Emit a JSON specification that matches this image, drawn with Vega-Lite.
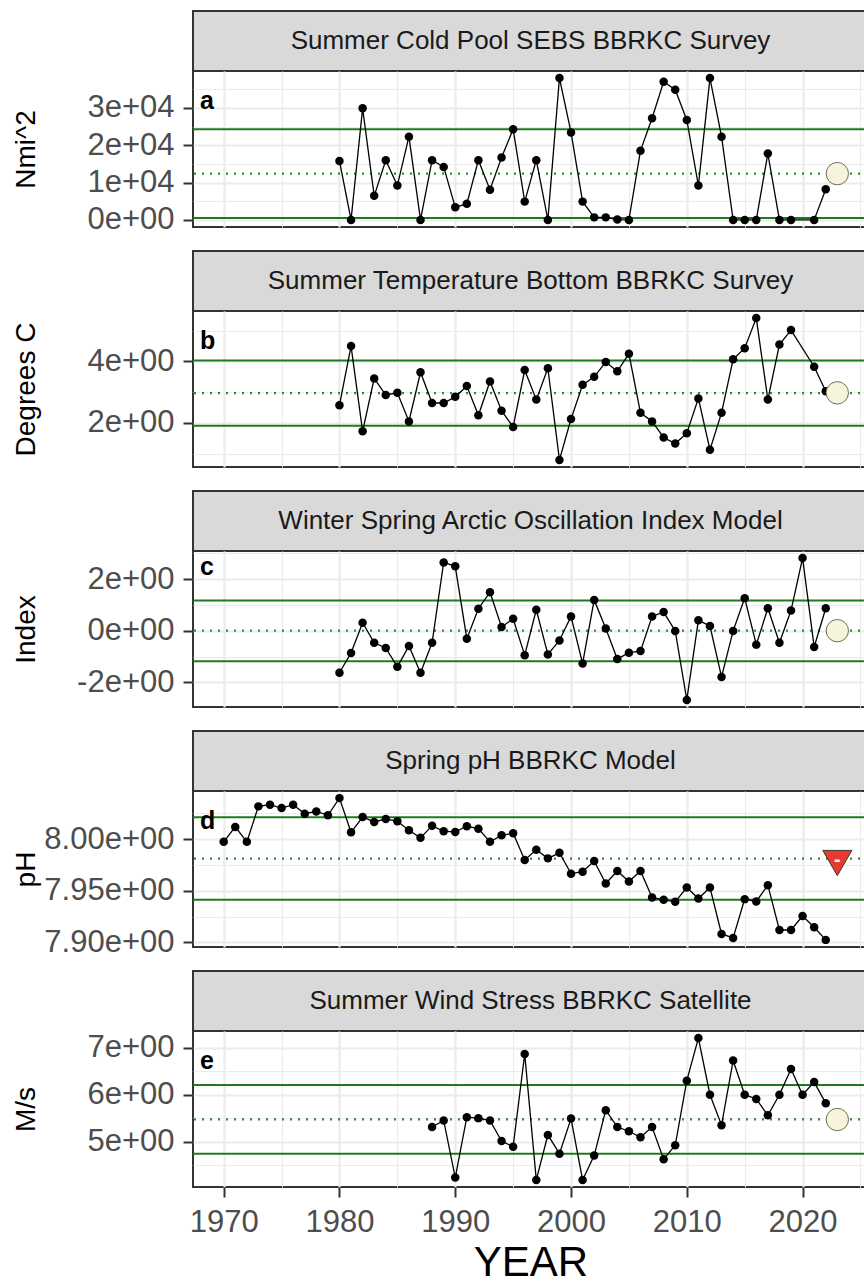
{
  "$schema": "https://vega.github.io/schema/vega-lite/v6.json",
  "background": "white",
  "padding": {"left": 11, "top": 10, "right": 0, "bottom": 0},
  "autosize": {"type": "pad"},
  "config": {
    "font": "Liberation Sans",
    "view": {"stroke": null},
    "axis": {"domain": false, "grid": true, "gridColor": "#ebebeb", "labelFontSize": 31, "labelColor": "#4d4d4d", "labelFont": "Liberation Sans", "tickColor": "#333333", "tickWidth": 2, "tickSize": 10, "titleFontSize": 28, "titleFontWeight": "normal", "titleColor": "#000000", "titleFont": "Liberation Sans", "labelFlush": false, "labelOverlap": false, "labelBound": false},
    "axisY": {"labelPadding": 9},
    "axisX": {"labelPadding": 10},
    "title": {"font": "Liberation Sans"}
  },
  "datasets": {
    "a": [
      {"year": 1980, "v": 15800}, {"year": 1981, "v": 0}, {"year": 1982, "v": 29900}, {"year": 1983, "v": 6450}, {"year": 1984, "v": 16000},
      {"year": 1985, "v": 9200}, {"year": 1986, "v": 22300}, {"year": 1987, "v": 0}, {"year": 1988, "v": 16000}, {"year": 1989, "v": 14200},
      {"year": 1990, "v": 3400}, {"year": 1991, "v": 4300}, {"year": 1992, "v": 16000}, {"year": 1993, "v": 8100}, {"year": 1994, "v": 16700},
      {"year": 1995, "v": 24300}, {"year": 1996, "v": 4900}, {"year": 1997, "v": 16000}, {"year": 1998, "v": 0}, {"year": 1999, "v": 38000},
      {"year": 2000, "v": 23450}, {"year": 2001, "v": 4900}, {"year": 2002, "v": 680}, {"year": 2003, "v": 680}, {"year": 2004, "v": 100},
      {"year": 2005, "v": 0}, {"year": 2006, "v": 18560}, {"year": 2007, "v": 27260}, {"year": 2008, "v": 37030}, {"year": 2009, "v": 34880},
      {"year": 2010, "v": 26770}, {"year": 2011, "v": 9200}, {"year": 2012, "v": 38000}, {"year": 2013, "v": 22300}, {"year": 2014, "v": 0},
      {"year": 2015, "v": 0}, {"year": 2016, "v": 0}, {"year": 2017, "v": 17780}, {"year": 2018, "v": 0}, {"year": 2019, "v": 0},
      {"year": 2021, "v": 0}, {"year": 2022, "v": 8200}
    ],
    "b": [
      {"year": 1980, "v": 2.58}, {"year": 1981, "v": 4.50}, {"year": 1982, "v": 1.73}, {"year": 1983, "v": 3.45}, {"year": 1984, "v": 2.91},
      {"year": 1985, "v": 2.98}, {"year": 1986, "v": 2.05}, {"year": 1987, "v": 3.65}, {"year": 1988, "v": 2.65}, {"year": 1989, "v": 2.65},
      {"year": 1990, "v": 2.85}, {"year": 1991, "v": 3.20}, {"year": 1992, "v": 2.25}, {"year": 1993, "v": 3.35}, {"year": 1994, "v": 2.40},
      {"year": 1995, "v": 1.87}, {"year": 1996, "v": 3.72}, {"year": 1997, "v": 2.76}, {"year": 1998, "v": 3.78}, {"year": 1999, "v": 0.80},
      {"year": 2000, "v": 2.13}, {"year": 2001, "v": 3.24}, {"year": 2002, "v": 3.50}, {"year": 2003, "v": 3.98}, {"year": 2004, "v": 3.68},
      {"year": 2005, "v": 4.25}, {"year": 2006, "v": 2.33}, {"year": 2007, "v": 2.05}, {"year": 2008, "v": 1.53}, {"year": 2009, "v": 1.33},
      {"year": 2010, "v": 1.67}, {"year": 2011, "v": 2.80}, {"year": 2012, "v": 1.13}, {"year": 2013, "v": 2.33}, {"year": 2014, "v": 4.07},
      {"year": 2015, "v": 4.43}, {"year": 2016, "v": 5.41}, {"year": 2017, "v": 2.76}, {"year": 2018, "v": 4.55}, {"year": 2019, "v": 5.02},
      {"year": 2021, "v": 3.83}, {"year": 2022, "v": 3.03}
    ],
    "c": [
      {"year": 1980, "v": -1.63}, {"year": 1981, "v": -0.86}, {"year": 1982, "v": 0.31}, {"year": 1983, "v": -0.47}, {"year": 1984, "v": -0.67},
      {"year": 1985, "v": -1.40}, {"year": 1986, "v": -0.59}, {"year": 1987, "v": -1.63}, {"year": 1988, "v": -0.47}, {"year": 1989, "v": 2.64},
      {"year": 1990, "v": 2.49}, {"year": 1991, "v": -0.31}, {"year": 1992, "v": 0.85}, {"year": 1993, "v": 1.49}, {"year": 1994, "v": 0.14},
      {"year": 1995, "v": 0.46}, {"year": 1996, "v": -0.95}, {"year": 1997, "v": 0.81}, {"year": 1998, "v": -0.92}, {"year": 1999, "v": -0.38},
      {"year": 2000, "v": 0.55}, {"year": 2001, "v": -1.27}, {"year": 2002, "v": 1.19}, {"year": 2003, "v": 0.08}, {"year": 2004, "v": -1.10},
      {"year": 2005, "v": -0.85}, {"year": 2006, "v": -0.79}, {"year": 2007, "v": 0.55}, {"year": 2008, "v": 0.72}, {"year": 2009, "v": -0.01},
      {"year": 2010, "v": -2.68}, {"year": 2011, "v": 0.40}, {"year": 2012, "v": 0.18}, {"year": 2013, "v": -1.79}, {"year": 2014, "v": -0.01},
      {"year": 2015, "v": 1.26}, {"year": 2016, "v": -0.54}, {"year": 2017, "v": 0.87}, {"year": 2018, "v": -0.47}, {"year": 2019, "v": 0.78},
      {"year": 2020, "v": 2.81}, {"year": 2021, "v": -0.63}, {"year": 2022, "v": 0.87}
    ],
    "d": [
      {"year": 1970, "v": 7.9975}, {"year": 1971, "v": 8.0120}, {"year": 1972, "v": 7.9975}, {"year": 1973, "v": 8.0319}, {"year": 1974, "v": 8.0335},
      {"year": 1975, "v": 8.0303}, {"year": 1976, "v": 8.0335}, {"year": 1977, "v": 8.0248}, {"year": 1978, "v": 8.0270}, {"year": 1979, "v": 8.0232},
      {"year": 1980, "v": 8.0399}, {"year": 1981, "v": 8.0068}, {"year": 1982, "v": 8.0216}, {"year": 1983, "v": 8.0168}, {"year": 1984, "v": 8.0197},
      {"year": 1985, "v": 8.0174}, {"year": 1986, "v": 8.0087}, {"year": 1987, "v": 8.0014}, {"year": 1988, "v": 8.0132}, {"year": 1989, "v": 8.0078},
      {"year": 1990, "v": 8.0071}, {"year": 1991, "v": 8.0126}, {"year": 1992, "v": 8.0103}, {"year": 1993, "v": 7.9975}, {"year": 1994, "v": 8.0039},
      {"year": 1995, "v": 8.0058}, {"year": 1996, "v": 7.9799}, {"year": 1997, "v": 7.9898}, {"year": 1998, "v": 7.9815}, {"year": 1999, "v": 7.9869},
      {"year": 2000, "v": 7.9667}, {"year": 2001, "v": 7.9686}, {"year": 2002, "v": 7.9789}, {"year": 2003, "v": 7.9571}, {"year": 2004, "v": 7.9693},
      {"year": 2005, "v": 7.9590}, {"year": 2006, "v": 7.9693}, {"year": 2007, "v": 7.9436}, {"year": 2008, "v": 7.9413}, {"year": 2009, "v": 7.9394},
      {"year": 2010, "v": 7.9532}, {"year": 2011, "v": 7.9426}, {"year": 2012, "v": 7.9532}, {"year": 2013, "v": 7.9083}, {"year": 2014, "v": 7.9044},
      {"year": 2015, "v": 7.9420}, {"year": 2016, "v": 7.9397}, {"year": 2017, "v": 7.9555}, {"year": 2018, "v": 7.9121}, {"year": 2019, "v": 7.9121},
      {"year": 2020, "v": 7.9256}, {"year": 2021, "v": 7.9147}, {"year": 2022, "v": 7.9025}
    ],
    "e": [
      {"year": 1988, "v": 5.31}, {"year": 1989, "v": 5.45}, {"year": 1990, "v": 4.23}, {"year": 1991, "v": 5.52}, {"year": 1992, "v": 5.50},
      {"year": 1993, "v": 5.45}, {"year": 1994, "v": 5.01}, {"year": 1995, "v": 4.89}, {"year": 1996, "v": 6.87}, {"year": 1997, "v": 4.18},
      {"year": 1998, "v": 5.14}, {"year": 1999, "v": 4.74}, {"year": 2000, "v": 5.49}, {"year": 2001, "v": 4.18}, {"year": 2002, "v": 4.70},
      {"year": 2003, "v": 5.67}, {"year": 2004, "v": 5.31}, {"year": 2005, "v": 5.22}, {"year": 2006, "v": 5.09}, {"year": 2007, "v": 5.31},
      {"year": 2008, "v": 4.62}, {"year": 2009, "v": 4.92}, {"year": 2010, "v": 6.30}, {"year": 2011, "v": 7.21}, {"year": 2012, "v": 6.00},
      {"year": 2013, "v": 5.35}, {"year": 2014, "v": 6.73}, {"year": 2015, "v": 6.00}, {"year": 2016, "v": 5.91}, {"year": 2017, "v": 5.56},
      {"year": 2018, "v": 6.00}, {"year": 2019, "v": 6.55}, {"year": 2020, "v": 6.00}, {"year": 2021, "v": 6.27}, {"year": 2022, "v": 5.82}
    ],
    "ref": [
      {"panel": "a", "line": "sd", "v": 24300}, {"panel": "a", "line": "sd", "v": 540}, {"panel": "a", "line": "mean", "v": 12420},
      {"panel": "b", "line": "sd", "v": 4.03}, {"panel": "b", "line": "sd", "v": 1.91}, {"panel": "b", "line": "mean", "v": 2.97},
      {"panel": "c", "line": "sd", "v": 1.17}, {"panel": "c", "line": "sd", "v": -1.18}, {"panel": "c", "line": "mean", "v": 0.0},
      {"panel": "d", "line": "sd", "v": 8.0213}, {"panel": "d", "line": "sd", "v": 7.9413}, {"panel": "d", "line": "mean", "v": 7.9813},
      {"panel": "e", "line": "sd", "v": 6.21}, {"panel": "e", "line": "sd", "v": 4.74}, {"panel": "e", "line": "mean", "v": 5.475}
    ],
    "mk": [
      {"panel": "a", "year": 2023, "v": 12400, "sym": ""},
      {"panel": "b", "year": 2023, "v": 2.98, "sym": ""},
      {"panel": "c", "year": 2023, "v": 0.0, "sym": ""},
      {"panel": "d", "year": 2023, "v": 7.977, "sym": "-"},
      {"panel": "e", "year": 2023, "v": 5.47, "sym": ""}
    ]
  },
  "spacing": 0,
  "bounds": "flush",
  "vconcat": [
    {"width": 675, "height": 60, "view": {"fill": "#d9d9d9", "stroke": "#333333", "strokeWidth": 2},
     "data": {"values": [{"label": "Summer Cold Pool SEBS BBRKC Survey"}]},
     "mark": {"type": "text", "fontSize": 26, "color": "#1a1a1a"},
     "encoding": {"text": {"field": "label"}}},
    {"width": 675, "height": 156, "view": {"fill": "#ffffff", "stroke": "#333333", "strokeWidth": 2},
     "title": {"text": "a", "anchor": "start", "frame": "group", "offset": -43, "baseline": "top", "dx": 7, "fontSize": 25, "fontWeight": "bold", "color": "#000000"},
     "layer": [
       {"data": {"name": "ref"}, "transform": [{"filter": "datum.panel == 'a' && datum.line == 'sd'"}], "mark": {"type": "rule", "color": "#1f7a1f", "strokeWidth": 2},
        "encoding": {"y": {"field": "v", "type": "quantitative", "scale": {"domain": [-1900, 39900], "nice": false, "zero": false},
          "axis": {"orient": "left", "values": [0, 5000, 10000, 15000, 20000, 25000, 30000, 35000], "title": "Nmi^2", "titleX": -167, "titleBaseline": "middle", "labelExpr": "datum.value % 10000 != 0 ? '' : (datum.value == 0 ? '0e+00' : (datum.value / 10000) + 'e+04')", "gridWidth": {"condition": {"test": "datum.value % 10000 == 0", "value": 2.2}, "value": 1.1}, "tickOpacity": {"condition": {"test": "datum.value % 10000 == 0", "value": 1}, "value": 0}}}}},
       {"data": {"name": "ref"}, "transform": [{"filter": "datum.panel == 'a' && datum.line == 'mean'"}], "mark": {"type": "rule", "color": "#2e8b2e", "strokeWidth": 2.2, "strokeDash": [2, 6]},
        "encoding": {"y": {"field": "v", "type": "quantitative", "scale": {"domain": [-1900, 39900], "nice": false, "zero": false},
          "axis": {"orient": "left", "values": [0, 5000, 10000, 15000, 20000, 25000, 30000, 35000], "title": "Nmi^2", "titleX": -167, "titleBaseline": "middle", "labelExpr": "datum.value % 10000 != 0 ? '' : (datum.value == 0 ? '0e+00' : (datum.value / 10000) + 'e+04')", "gridWidth": {"condition": {"test": "datum.value % 10000 == 0", "value": 2.2}, "value": 1.1}, "tickOpacity": {"condition": {"test": "datum.value % 10000 == 0", "value": 1}, "value": 0}}}}},
       {"data": {"name": "a"}, "mark": {"type": "line", "color": "#000000", "strokeWidth": 1.3},
        "encoding": {
          "x": {"field": "year", "type": "quantitative", "scale": {"domain": [1967.35, 2025.65], "nice": false, "zero": false},
                "axis": {"orient": "bottom", "values": [1970, 1975, 1980, 1985, 1990, 1995, 2000, 2005, 2010, 2015, 2020, 2025], "labels": false, "ticks": false, "title": null, "gridWidth": {"condition": {"test": "datum.value % 10 == 0", "value": 2.2}, "value": 1.1}}},
          "y": {"field": "v", "type": "quantitative", "scale": {"domain": [-1900, 39900], "nice": false, "zero": false},
                "axis": {"orient": "left", "values": [0, 5000, 10000, 15000, 20000, 25000, 30000, 35000], "title": "Nmi^2", "titleX": -167, "titleBaseline": "middle", "labelExpr": "datum.value % 10000 != 0 ? '' : (datum.value == 0 ? '0e+00' : (datum.value / 10000) + 'e+04')", "gridWidth": {"condition": {"test": "datum.value % 10000 == 0", "value": 2.2}, "value": 1.1}, "tickOpacity": {"condition": {"test": "datum.value % 10000 == 0", "value": 1}, "value": 0}}}}},
       {"data": {"name": "a"}, "mark": {"type": "point", "filled": true, "color": "#000000", "size": 72, "opacity": 1},
        "encoding": {
          "x": {"field": "year", "type": "quantitative", "scale": {"domain": [1967.35, 2025.65], "nice": false, "zero": false},
                "axis": {"orient": "bottom", "values": [1970, 1975, 1980, 1985, 1990, 1995, 2000, 2005, 2010, 2015, 2020, 2025], "labels": false, "ticks": false, "title": null, "gridWidth": {"condition": {"test": "datum.value % 10 == 0", "value": 2.2}, "value": 1.1}}},
          "y": {"field": "v", "type": "quantitative", "scale": {"domain": [-1900, 39900], "nice": false, "zero": false},
                "axis": {"orient": "left", "values": [0, 5000, 10000, 15000, 20000, 25000, 30000, 35000], "title": "Nmi^2", "titleX": -167, "titleBaseline": "middle", "labelExpr": "datum.value % 10000 != 0 ? '' : (datum.value == 0 ? '0e+00' : (datum.value / 10000) + 'e+04')", "gridWidth": {"condition": {"test": "datum.value % 10000 == 0", "value": 2.2}, "value": 1.1}, "tickOpacity": {"condition": {"test": "datum.value % 10000 == 0", "value": 1}, "value": 0}}}}},
       {"data": {"name": "mk"}, "transform": [{"filter": "datum.panel == 'a'"}], "mark": {"type": "point", "shape": "circle", "filled": true, "fill": "#f6f4dc", "stroke": "#6f6f55", "strokeWidth": 1, "size": 500, "opacity": 1},
        "encoding": {
          "x": {"field": "year", "type": "quantitative", "scale": {"domain": [1967.35, 2025.65], "nice": false, "zero": false},
                "axis": {"orient": "bottom", "values": [1970, 1975, 1980, 1985, 1990, 1995, 2000, 2005, 2010, 2015, 2020, 2025], "labels": false, "ticks": false, "title": null, "gridWidth": {"condition": {"test": "datum.value % 10 == 0", "value": 2.2}, "value": 1.1}}},
          "y": {"field": "v", "type": "quantitative", "scale": {"domain": [-1900, 39900], "nice": false, "zero": false},
                "axis": {"orient": "left", "values": [0, 5000, 10000, 15000, 20000, 25000, 30000, 35000], "title": "Nmi^2", "titleX": -167, "titleBaseline": "middle", "labelExpr": "datum.value % 10000 != 0 ? '' : (datum.value == 0 ? '0e+00' : (datum.value / 10000) + 'e+04')", "gridWidth": {"condition": {"test": "datum.value % 10000 == 0", "value": 2.2}, "value": 1.1}, "tickOpacity": {"condition": {"test": "datum.value % 10000 == 0", "value": 1}, "value": 0}}}}}
     ]},
    {"width": 675, "height": 24, "data": {"values": []}, "mark": "text", "encoding": {}},
    {"width": 675, "height": 60, "view": {"fill": "#d9d9d9", "stroke": "#333333", "strokeWidth": 2},
     "data": {"values": [{"label": "Summer Temperature Bottom BBRKC Survey"}]},
     "mark": {"type": "text", "fontSize": 26, "color": "#1a1a1a"},
     "encoding": {"text": {"field": "label"}}},
    {"width": 675, "height": 156, "view": {"fill": "#ffffff", "stroke": "#333333", "strokeWidth": 2},
     "title": {"text": "b", "anchor": "start", "frame": "group", "offset": -43, "baseline": "top", "dx": 7, "fontSize": 25, "fontWeight": "bold", "color": "#000000"},
     "layer": [
       {"data": {"name": "ref"}, "transform": [{"filter": "datum.panel == 'b' && datum.line == 'sd'"}], "mark": {"type": "rule", "color": "#1f7a1f", "strokeWidth": 2},
        "encoding": {"y": {"field": "v", "type": "quantitative", "scale": {"domain": [0.5695, 5.6405], "nice": false, "zero": false},
          "axis": {"orient": "left", "values": [1, 2, 3, 4, 5], "title": "Degrees C", "titleX": -167, "titleBaseline": "middle", "labelExpr": "abs(datum.value - 2 * round(datum.value / 2)) < 0.001 ? datum.value + 'e+00' : ''", "gridWidth": {"condition": {"test": "abs(datum.value - 2 * round(datum.value / 2)) < 0.001", "value": 2.2}, "value": 1.1}, "tickOpacity": {"condition": {"test": "abs(datum.value - 2 * round(datum.value / 2)) < 0.001", "value": 1}, "value": 0}}}}},
       {"data": {"name": "ref"}, "transform": [{"filter": "datum.panel == 'b' && datum.line == 'mean'"}], "mark": {"type": "rule", "color": "#2e8b2e", "strokeWidth": 2.2, "strokeDash": [2, 6]},
        "encoding": {"y": {"field": "v", "type": "quantitative", "scale": {"domain": [0.5695, 5.6405], "nice": false, "zero": false},
          "axis": {"orient": "left", "values": [1, 2, 3, 4, 5], "title": "Degrees C", "titleX": -167, "titleBaseline": "middle", "labelExpr": "abs(datum.value - 2 * round(datum.value / 2)) < 0.001 ? datum.value + 'e+00' : ''", "gridWidth": {"condition": {"test": "abs(datum.value - 2 * round(datum.value / 2)) < 0.001", "value": 2.2}, "value": 1.1}, "tickOpacity": {"condition": {"test": "abs(datum.value - 2 * round(datum.value / 2)) < 0.001", "value": 1}, "value": 0}}}}},
       {"data": {"name": "b"}, "mark": {"type": "line", "color": "#000000", "strokeWidth": 1.3},
        "encoding": {
          "x": {"field": "year", "type": "quantitative", "scale": {"domain": [1967.35, 2025.65], "nice": false, "zero": false},
                "axis": {"orient": "bottom", "values": [1970, 1975, 1980, 1985, 1990, 1995, 2000, 2005, 2010, 2015, 2020, 2025], "labels": false, "ticks": false, "title": null, "gridWidth": {"condition": {"test": "datum.value % 10 == 0", "value": 2.2}, "value": 1.1}}},
          "y": {"field": "v", "type": "quantitative", "scale": {"domain": [0.5695, 5.6405], "nice": false, "zero": false},
                "axis": {"orient": "left", "values": [1, 2, 3, 4, 5], "title": "Degrees C", "titleX": -167, "titleBaseline": "middle", "labelExpr": "abs(datum.value - 2 * round(datum.value / 2)) < 0.001 ? datum.value + 'e+00' : ''", "gridWidth": {"condition": {"test": "abs(datum.value - 2 * round(datum.value / 2)) < 0.001", "value": 2.2}, "value": 1.1}, "tickOpacity": {"condition": {"test": "abs(datum.value - 2 * round(datum.value / 2)) < 0.001", "value": 1}, "value": 0}}}}},
       {"data": {"name": "b"}, "mark": {"type": "point", "filled": true, "color": "#000000", "size": 72, "opacity": 1},
        "encoding": {
          "x": {"field": "year", "type": "quantitative", "scale": {"domain": [1967.35, 2025.65], "nice": false, "zero": false},
                "axis": {"orient": "bottom", "values": [1970, 1975, 1980, 1985, 1990, 1995, 2000, 2005, 2010, 2015, 2020, 2025], "labels": false, "ticks": false, "title": null, "gridWidth": {"condition": {"test": "datum.value % 10 == 0", "value": 2.2}, "value": 1.1}}},
          "y": {"field": "v", "type": "quantitative", "scale": {"domain": [0.5695, 5.6405], "nice": false, "zero": false},
                "axis": {"orient": "left", "values": [1, 2, 3, 4, 5], "title": "Degrees C", "titleX": -167, "titleBaseline": "middle", "labelExpr": "abs(datum.value - 2 * round(datum.value / 2)) < 0.001 ? datum.value + 'e+00' : ''", "gridWidth": {"condition": {"test": "abs(datum.value - 2 * round(datum.value / 2)) < 0.001", "value": 2.2}, "value": 1.1}, "tickOpacity": {"condition": {"test": "abs(datum.value - 2 * round(datum.value / 2)) < 0.001", "value": 1}, "value": 0}}}}},
       {"data": {"name": "mk"}, "transform": [{"filter": "datum.panel == 'b'"}], "mark": {"type": "point", "shape": "circle", "filled": true, "fill": "#f6f4dc", "stroke": "#6f6f55", "strokeWidth": 1, "size": 500, "opacity": 1},
        "encoding": {
          "x": {"field": "year", "type": "quantitative", "scale": {"domain": [1967.35, 2025.65], "nice": false, "zero": false},
                "axis": {"orient": "bottom", "values": [1970, 1975, 1980, 1985, 1990, 1995, 2000, 2005, 2010, 2015, 2020, 2025], "labels": false, "ticks": false, "title": null, "gridWidth": {"condition": {"test": "datum.value % 10 == 0", "value": 2.2}, "value": 1.1}}},
          "y": {"field": "v", "type": "quantitative", "scale": {"domain": [0.5695, 5.6405], "nice": false, "zero": false},
                "axis": {"orient": "left", "values": [1, 2, 3, 4, 5], "title": "Degrees C", "titleX": -167, "titleBaseline": "middle", "labelExpr": "abs(datum.value - 2 * round(datum.value / 2)) < 0.001 ? datum.value + 'e+00' : ''", "gridWidth": {"condition": {"test": "abs(datum.value - 2 * round(datum.value / 2)) < 0.001", "value": 2.2}, "value": 1.1}, "tickOpacity": {"condition": {"test": "abs(datum.value - 2 * round(datum.value / 2)) < 0.001", "value": 1}, "value": 0}}}}}
     ]},
    {"width": 675, "height": 24, "data": {"values": []}, "mark": "text", "encoding": {}},
    {"width": 675, "height": 60, "view": {"fill": "#d9d9d9", "stroke": "#333333", "strokeWidth": 2},
     "data": {"values": [{"label": "Winter Spring Arctic Oscillation Index Model"}]},
     "mark": {"type": "text", "fontSize": 26, "color": "#1a1a1a"},
     "encoding": {"text": {"field": "label"}}},
    {"width": 675, "height": 156, "view": {"fill": "#ffffff", "stroke": "#333333", "strokeWidth": 2},
     "title": {"text": "c", "anchor": "start", "frame": "group", "offset": -43, "baseline": "top", "dx": 7, "fontSize": 25, "fontWeight": "bold", "color": "#000000"},
     "layer": [
       {"data": {"name": "ref"}, "transform": [{"filter": "datum.panel == 'c' && datum.line == 'sd'"}], "mark": {"type": "rule", "color": "#1f7a1f", "strokeWidth": 2},
        "encoding": {"y": {"field": "v", "type": "quantitative", "scale": {"domain": [-2.9545, 3.0845], "nice": false, "zero": false},
          "axis": {"orient": "left", "values": [-2, -1, 0, 1, 2, 3], "title": "Index", "titleX": -167, "titleBaseline": "middle", "labelExpr": "abs(datum.value - 2 * round(datum.value / 2)) < 0.001 ? datum.value + 'e+00' : ''", "gridWidth": {"condition": {"test": "abs(datum.value - 2 * round(datum.value / 2)) < 0.001", "value": 2.2}, "value": 1.1}, "tickOpacity": {"condition": {"test": "abs(datum.value - 2 * round(datum.value / 2)) < 0.001", "value": 1}, "value": 0}}}}},
       {"data": {"name": "ref"}, "transform": [{"filter": "datum.panel == 'c' && datum.line == 'mean'"}], "mark": {"type": "rule", "color": "#2e8b2e", "strokeWidth": 2.2, "strokeDash": [2, 6]},
        "encoding": {"y": {"field": "v", "type": "quantitative", "scale": {"domain": [-2.9545, 3.0845], "nice": false, "zero": false},
          "axis": {"orient": "left", "values": [-2, -1, 0, 1, 2, 3], "title": "Index", "titleX": -167, "titleBaseline": "middle", "labelExpr": "abs(datum.value - 2 * round(datum.value / 2)) < 0.001 ? datum.value + 'e+00' : ''", "gridWidth": {"condition": {"test": "abs(datum.value - 2 * round(datum.value / 2)) < 0.001", "value": 2.2}, "value": 1.1}, "tickOpacity": {"condition": {"test": "abs(datum.value - 2 * round(datum.value / 2)) < 0.001", "value": 1}, "value": 0}}}}},
       {"data": {"name": "c"}, "mark": {"type": "line", "color": "#000000", "strokeWidth": 1.3},
        "encoding": {
          "x": {"field": "year", "type": "quantitative", "scale": {"domain": [1967.35, 2025.65], "nice": false, "zero": false},
                "axis": {"orient": "bottom", "values": [1970, 1975, 1980, 1985, 1990, 1995, 2000, 2005, 2010, 2015, 2020, 2025], "labels": false, "ticks": false, "title": null, "gridWidth": {"condition": {"test": "datum.value % 10 == 0", "value": 2.2}, "value": 1.1}}},
          "y": {"field": "v", "type": "quantitative", "scale": {"domain": [-2.9545, 3.0845], "nice": false, "zero": false},
                "axis": {"orient": "left", "values": [-2, -1, 0, 1, 2, 3], "title": "Index", "titleX": -167, "titleBaseline": "middle", "labelExpr": "abs(datum.value - 2 * round(datum.value / 2)) < 0.001 ? datum.value + 'e+00' : ''", "gridWidth": {"condition": {"test": "abs(datum.value - 2 * round(datum.value / 2)) < 0.001", "value": 2.2}, "value": 1.1}, "tickOpacity": {"condition": {"test": "abs(datum.value - 2 * round(datum.value / 2)) < 0.001", "value": 1}, "value": 0}}}}},
       {"data": {"name": "c"}, "mark": {"type": "point", "filled": true, "color": "#000000", "size": 72, "opacity": 1},
        "encoding": {
          "x": {"field": "year", "type": "quantitative", "scale": {"domain": [1967.35, 2025.65], "nice": false, "zero": false},
                "axis": {"orient": "bottom", "values": [1970, 1975, 1980, 1985, 1990, 1995, 2000, 2005, 2010, 2015, 2020, 2025], "labels": false, "ticks": false, "title": null, "gridWidth": {"condition": {"test": "datum.value % 10 == 0", "value": 2.2}, "value": 1.1}}},
          "y": {"field": "v", "type": "quantitative", "scale": {"domain": [-2.9545, 3.0845], "nice": false, "zero": false},
                "axis": {"orient": "left", "values": [-2, -1, 0, 1, 2, 3], "title": "Index", "titleX": -167, "titleBaseline": "middle", "labelExpr": "abs(datum.value - 2 * round(datum.value / 2)) < 0.001 ? datum.value + 'e+00' : ''", "gridWidth": {"condition": {"test": "abs(datum.value - 2 * round(datum.value / 2)) < 0.001", "value": 2.2}, "value": 1.1}, "tickOpacity": {"condition": {"test": "abs(datum.value - 2 * round(datum.value / 2)) < 0.001", "value": 1}, "value": 0}}}}},
       {"data": {"name": "mk"}, "transform": [{"filter": "datum.panel == 'c'"}], "mark": {"type": "point", "shape": "circle", "filled": true, "fill": "#f6f4dc", "stroke": "#6f6f55", "strokeWidth": 1, "size": 500, "opacity": 1},
        "encoding": {
          "x": {"field": "year", "type": "quantitative", "scale": {"domain": [1967.35, 2025.65], "nice": false, "zero": false},
                "axis": {"orient": "bottom", "values": [1970, 1975, 1980, 1985, 1990, 1995, 2000, 2005, 2010, 2015, 2020, 2025], "labels": false, "ticks": false, "title": null, "gridWidth": {"condition": {"test": "datum.value % 10 == 0", "value": 2.2}, "value": 1.1}}},
          "y": {"field": "v", "type": "quantitative", "scale": {"domain": [-2.9545, 3.0845], "nice": false, "zero": false},
                "axis": {"orient": "left", "values": [-2, -1, 0, 1, 2, 3], "title": "Index", "titleX": -167, "titleBaseline": "middle", "labelExpr": "abs(datum.value - 2 * round(datum.value / 2)) < 0.001 ? datum.value + 'e+00' : ''", "gridWidth": {"condition": {"test": "abs(datum.value - 2 * round(datum.value / 2)) < 0.001", "value": 2.2}, "value": 1.1}, "tickOpacity": {"condition": {"test": "abs(datum.value - 2 * round(datum.value / 2)) < 0.001", "value": 1}, "value": 0}}}}}
     ]},
    {"width": 675, "height": 24, "data": {"values": []}, "mark": "text", "encoding": {}},
    {"width": 675, "height": 60, "view": {"fill": "#d9d9d9", "stroke": "#333333", "strokeWidth": 2},
     "data": {"values": [{"label": "Spring pH BBRKC Model"}]},
     "mark": {"type": "text", "fontSize": 26, "color": "#1a1a1a"},
     "encoding": {"text": {"field": "label"}}},
    {"width": 675, "height": 156, "view": {"fill": "#ffffff", "stroke": "#333333", "strokeWidth": 2},
     "title": {"text": "d", "anchor": "start", "frame": "group", "offset": -43, "baseline": "top", "dx": 7, "fontSize": 25, "fontWeight": "bold", "color": "#000000"},
     "layer": [
       {"data": {"name": "ref"}, "transform": [{"filter": "datum.panel == 'd' && datum.line == 'sd'"}], "mark": {"type": "rule", "color": "#1f7a1f", "strokeWidth": 2},
        "encoding": {"y": {"field": "v", "type": "quantitative", "scale": {"domain": [7.8956, 8.0468], "nice": false, "zero": false},
          "axis": {"orient": "left", "values": [7.9, 7.925, 7.95, 7.975, 8.0, 8.025], "title": "pH", "titleX": -167, "titleBaseline": "middle", "labelExpr": "abs(round(datum.value * 20) - datum.value * 20) < 0.001 ? format(datum.value, '.2f') + 'e+00' : ''", "gridWidth": {"condition": {"test": "abs(round(datum.value * 20) - datum.value * 20) < 0.001", "value": 2.2}, "value": 1.1}, "tickOpacity": {"condition": {"test": "abs(round(datum.value * 20) - datum.value * 20) < 0.001", "value": 1}, "value": 0}}}}},
       {"data": {"name": "ref"}, "transform": [{"filter": "datum.panel == 'd' && datum.line == 'mean'"}], "mark": {"type": "rule", "color": "#2e8b2e", "strokeWidth": 2.2, "strokeDash": [2, 6]},
        "encoding": {"y": {"field": "v", "type": "quantitative", "scale": {"domain": [7.8956, 8.0468], "nice": false, "zero": false},
          "axis": {"orient": "left", "values": [7.9, 7.925, 7.95, 7.975, 8.0, 8.025], "title": "pH", "titleX": -167, "titleBaseline": "middle", "labelExpr": "abs(round(datum.value * 20) - datum.value * 20) < 0.001 ? format(datum.value, '.2f') + 'e+00' : ''", "gridWidth": {"condition": {"test": "abs(round(datum.value * 20) - datum.value * 20) < 0.001", "value": 2.2}, "value": 1.1}, "tickOpacity": {"condition": {"test": "abs(round(datum.value * 20) - datum.value * 20) < 0.001", "value": 1}, "value": 0}}}}},
       {"data": {"name": "d"}, "mark": {"type": "line", "color": "#000000", "strokeWidth": 1.3},
        "encoding": {
          "x": {"field": "year", "type": "quantitative", "scale": {"domain": [1967.35, 2025.65], "nice": false, "zero": false},
                "axis": {"orient": "bottom", "values": [1970, 1975, 1980, 1985, 1990, 1995, 2000, 2005, 2010, 2015, 2020, 2025], "labels": false, "ticks": false, "title": null, "gridWidth": {"condition": {"test": "datum.value % 10 == 0", "value": 2.2}, "value": 1.1}}},
          "y": {"field": "v", "type": "quantitative", "scale": {"domain": [7.8956, 8.0468], "nice": false, "zero": false},
                "axis": {"orient": "left", "values": [7.9, 7.925, 7.95, 7.975, 8.0, 8.025], "title": "pH", "titleX": -167, "titleBaseline": "middle", "labelExpr": "abs(round(datum.value * 20) - datum.value * 20) < 0.001 ? format(datum.value, '.2f') + 'e+00' : ''", "gridWidth": {"condition": {"test": "abs(round(datum.value * 20) - datum.value * 20) < 0.001", "value": 2.2}, "value": 1.1}, "tickOpacity": {"condition": {"test": "abs(round(datum.value * 20) - datum.value * 20) < 0.001", "value": 1}, "value": 0}}}}},
       {"data": {"name": "d"}, "mark": {"type": "point", "filled": true, "color": "#000000", "size": 72, "opacity": 1},
        "encoding": {
          "x": {"field": "year", "type": "quantitative", "scale": {"domain": [1967.35, 2025.65], "nice": false, "zero": false},
                "axis": {"orient": "bottom", "values": [1970, 1975, 1980, 1985, 1990, 1995, 2000, 2005, 2010, 2015, 2020, 2025], "labels": false, "ticks": false, "title": null, "gridWidth": {"condition": {"test": "datum.value % 10 == 0", "value": 2.2}, "value": 1.1}}},
          "y": {"field": "v", "type": "quantitative", "scale": {"domain": [7.8956, 8.0468], "nice": false, "zero": false},
                "axis": {"orient": "left", "values": [7.9, 7.925, 7.95, 7.975, 8.0, 8.025], "title": "pH", "titleX": -167, "titleBaseline": "middle", "labelExpr": "abs(round(datum.value * 20) - datum.value * 20) < 0.001 ? format(datum.value, '.2f') + 'e+00' : ''", "gridWidth": {"condition": {"test": "abs(round(datum.value * 20) - datum.value * 20) < 0.001", "value": 2.2}, "value": 1.1}, "tickOpacity": {"condition": {"test": "abs(round(datum.value * 20) - datum.value * 20) < 0.001", "value": 1}, "value": 0}}}}},
       {"data": {"name": "mk"}, "transform": [{"filter": "datum.panel == 'd'"}], "mark": {"type": "point", "shape": "triangle-down", "filled": true, "fill": "#ea3a30", "stroke": "#3a3a3a", "strokeWidth": 1, "size": 850, "opacity": 1},
        "encoding": {
          "x": {"field": "year", "type": "quantitative", "scale": {"domain": [1967.35, 2025.65], "nice": false, "zero": false},
                "axis": {"orient": "bottom", "values": [1970, 1975, 1980, 1985, 1990, 1995, 2000, 2005, 2010, 2015, 2020, 2025], "labels": false, "ticks": false, "title": null, "gridWidth": {"condition": {"test": "datum.value % 10 == 0", "value": 2.2}, "value": 1.1}}},
          "y": {"field": "v", "type": "quantitative", "scale": {"domain": [7.8956, 8.0468], "nice": false, "zero": false},
                "axis": {"orient": "left", "values": [7.9, 7.925, 7.95, 7.975, 8.0, 8.025], "title": "pH", "titleX": -167, "titleBaseline": "middle", "labelExpr": "abs(round(datum.value * 20) - datum.value * 20) < 0.001 ? format(datum.value, '.2f') + 'e+00' : ''", "gridWidth": {"condition": {"test": "abs(round(datum.value * 20) - datum.value * 20) < 0.001", "value": 2.2}, "value": 1.1}, "tickOpacity": {"condition": {"test": "abs(round(datum.value * 20) - datum.value * 20) < 0.001", "value": 1}, "value": 0}}}}},
       {"data": {"name": "mk"}, "transform": [{"filter": "datum.panel == 'd'"}], "mark": {"type": "text", "fontSize": 20, "fontWeight": "bold", "color": "#f2f2f2", "baseline": "middle", "dy": -3},
        "encoding": {
          "x": {"field": "year", "type": "quantitative", "scale": {"domain": [1967.35, 2025.65], "nice": false, "zero": false},
                "axis": {"orient": "bottom", "values": [1970, 1975, 1980, 1985, 1990, 1995, 2000, 2005, 2010, 2015, 2020, 2025], "labels": false, "ticks": false, "title": null, "gridWidth": {"condition": {"test": "datum.value % 10 == 0", "value": 2.2}, "value": 1.1}}},
          "y": {"field": "v", "type": "quantitative", "scale": {"domain": [7.8956, 8.0468], "nice": false, "zero": false},
                "axis": {"orient": "left", "values": [7.9, 7.925, 7.95, 7.975, 8.0, 8.025], "title": "pH", "titleX": -167, "titleBaseline": "middle", "labelExpr": "abs(round(datum.value * 20) - datum.value * 20) < 0.001 ? format(datum.value, '.2f') + 'e+00' : ''", "gridWidth": {"condition": {"test": "abs(round(datum.value * 20) - datum.value * 20) < 0.001", "value": 2.2}, "value": 1.1}, "tickOpacity": {"condition": {"test": "abs(round(datum.value * 20) - datum.value * 20) < 0.001", "value": 1}, "value": 0}}},
          "text": {"field": "sym"}}}
     ]},
    {"width": 675, "height": 24, "data": {"values": []}, "mark": "text", "encoding": {}},
    {"width": 675, "height": 60, "view": {"fill": "#d9d9d9", "stroke": "#333333", "strokeWidth": 2},
     "data": {"values": [{"label": "Summer Wind Stress BBRKC Satellite"}]},
     "mark": {"type": "text", "fontSize": 26, "color": "#1a1a1a"},
     "encoding": {"text": {"field": "label"}}},
    {"width": 675, "height": 156, "view": {"fill": "#ffffff", "stroke": "#333333", "strokeWidth": 2},
     "title": {"text": "e", "anchor": "start", "frame": "group", "offset": -43, "baseline": "top", "dx": 7, "fontSize": 25, "fontWeight": "bold", "color": "#000000"},
     "layer": [
       {"data": {"name": "ref"}, "transform": [{"filter": "datum.panel == 'e' && datum.line == 'sd'"}], "mark": {"type": "rule", "color": "#1f7a1f", "strokeWidth": 2},
        "encoding": {"y": {"field": "v", "type": "quantitative", "scale": {"domain": [4.0285, 7.3615], "nice": false, "zero": false},
          "axis": {"orient": "left", "values": [4.5, 5, 5.5, 6, 6.5, 7], "title": "M/s", "titleX": -167, "titleBaseline": "middle", "labelExpr": "abs(datum.value - round(datum.value)) < 0.001 ? datum.value + 'e+00' : ''", "gridWidth": {"condition": {"test": "abs(datum.value - round(datum.value)) < 0.001", "value": 2.2}, "value": 1.1}, "tickOpacity": {"condition": {"test": "abs(datum.value - round(datum.value)) < 0.001", "value": 1}, "value": 0}}}}},
       {"data": {"name": "ref"}, "transform": [{"filter": "datum.panel == 'e' && datum.line == 'mean'"}], "mark": {"type": "rule", "color": "#2e8b2e", "strokeWidth": 2.2, "strokeDash": [2, 6]},
        "encoding": {"y": {"field": "v", "type": "quantitative", "scale": {"domain": [4.0285, 7.3615], "nice": false, "zero": false},
          "axis": {"orient": "left", "values": [4.5, 5, 5.5, 6, 6.5, 7], "title": "M/s", "titleX": -167, "titleBaseline": "middle", "labelExpr": "abs(datum.value - round(datum.value)) < 0.001 ? datum.value + 'e+00' : ''", "gridWidth": {"condition": {"test": "abs(datum.value - round(datum.value)) < 0.001", "value": 2.2}, "value": 1.1}, "tickOpacity": {"condition": {"test": "abs(datum.value - round(datum.value)) < 0.001", "value": 1}, "value": 0}}}}},
       {"data": {"name": "e"}, "mark": {"type": "line", "color": "#000000", "strokeWidth": 1.3},
        "encoding": {
          "x": {"field": "year", "type": "quantitative", "scale": {"domain": [1967.35, 2025.65], "nice": false, "zero": false},
                "axis": {"orient": "bottom", "values": [1970, 1975, 1980, 1985, 1990, 1995, 2000, 2005, 2010, 2015, 2020, 2025], "title": "YEAR", "titleFontSize": 42, "titlePadding": 5, "labelExpr": "datum.value % 10 == 0 ? format(datum.value, 'd') : ''", "gridWidth": {"condition": {"test": "datum.value % 10 == 0", "value": 2.2}, "value": 1.1}, "tickOpacity": {"condition": {"test": "datum.value % 10 == 0", "value": 1}, "value": 0}}},
          "y": {"field": "v", "type": "quantitative", "scale": {"domain": [4.0285, 7.3615], "nice": false, "zero": false},
                "axis": {"orient": "left", "values": [4.5, 5, 5.5, 6, 6.5, 7], "title": "M/s", "titleX": -167, "titleBaseline": "middle", "labelExpr": "abs(datum.value - round(datum.value)) < 0.001 ? datum.value + 'e+00' : ''", "gridWidth": {"condition": {"test": "abs(datum.value - round(datum.value)) < 0.001", "value": 2.2}, "value": 1.1}, "tickOpacity": {"condition": {"test": "abs(datum.value - round(datum.value)) < 0.001", "value": 1}, "value": 0}}}}},
       {"data": {"name": "e"}, "mark": {"type": "point", "filled": true, "color": "#000000", "size": 72, "opacity": 1},
        "encoding": {
          "x": {"field": "year", "type": "quantitative", "scale": {"domain": [1967.35, 2025.65], "nice": false, "zero": false},
                "axis": {"orient": "bottom", "values": [1970, 1975, 1980, 1985, 1990, 1995, 2000, 2005, 2010, 2015, 2020, 2025], "title": "YEAR", "titleFontSize": 42, "titlePadding": 5, "labelExpr": "datum.value % 10 == 0 ? format(datum.value, 'd') : ''", "gridWidth": {"condition": {"test": "datum.value % 10 == 0", "value": 2.2}, "value": 1.1}, "tickOpacity": {"condition": {"test": "datum.value % 10 == 0", "value": 1}, "value": 0}}},
          "y": {"field": "v", "type": "quantitative", "scale": {"domain": [4.0285, 7.3615], "nice": false, "zero": false},
                "axis": {"orient": "left", "values": [4.5, 5, 5.5, 6, 6.5, 7], "title": "M/s", "titleX": -167, "titleBaseline": "middle", "labelExpr": "abs(datum.value - round(datum.value)) < 0.001 ? datum.value + 'e+00' : ''", "gridWidth": {"condition": {"test": "abs(datum.value - round(datum.value)) < 0.001", "value": 2.2}, "value": 1.1}, "tickOpacity": {"condition": {"test": "abs(datum.value - round(datum.value)) < 0.001", "value": 1}, "value": 0}}}}},
       {"data": {"name": "mk"}, "transform": [{"filter": "datum.panel == 'e'"}], "mark": {"type": "point", "shape": "circle", "filled": true, "fill": "#f6f4dc", "stroke": "#6f6f55", "strokeWidth": 1, "size": 500, "opacity": 1},
        "encoding": {
          "x": {"field": "year", "type": "quantitative", "scale": {"domain": [1967.35, 2025.65], "nice": false, "zero": false},
                "axis": {"orient": "bottom", "values": [1970, 1975, 1980, 1985, 1990, 1995, 2000, 2005, 2010, 2015, 2020, 2025], "title": "YEAR", "titleFontSize": 42, "titlePadding": 5, "labelExpr": "datum.value % 10 == 0 ? format(datum.value, 'd') : ''", "gridWidth": {"condition": {"test": "datum.value % 10 == 0", "value": 2.2}, "value": 1.1}, "tickOpacity": {"condition": {"test": "datum.value % 10 == 0", "value": 1}, "value": 0}}},
          "y": {"field": "v", "type": "quantitative", "scale": {"domain": [4.0285, 7.3615], "nice": false, "zero": false},
                "axis": {"orient": "left", "values": [4.5, 5, 5.5, 6, 6.5, 7], "title": "M/s", "titleX": -167, "titleBaseline": "middle", "labelExpr": "abs(datum.value - round(datum.value)) < 0.001 ? datum.value + 'e+00' : ''", "gridWidth": {"condition": {"test": "abs(datum.value - round(datum.value)) < 0.001", "value": 2.2}, "value": 1.1}, "tickOpacity": {"condition": {"test": "abs(datum.value - round(datum.value)) < 0.001", "value": 1}, "value": 0}}}}}
     ]}
  ]
}
